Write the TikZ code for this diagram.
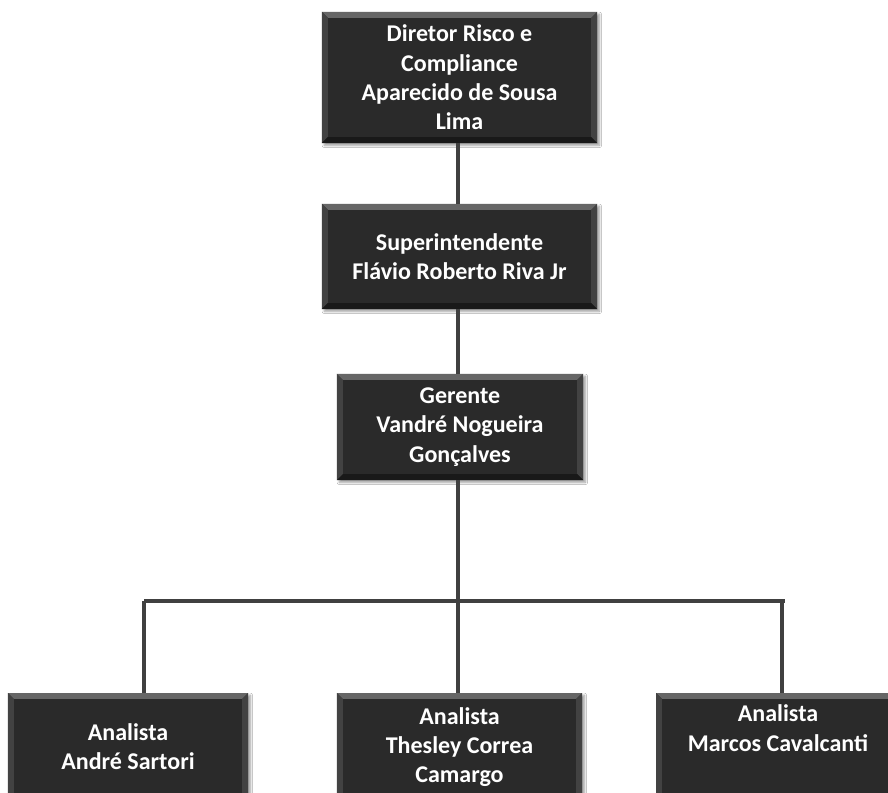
\documentclass[tikz,border=0pt]{standalone}
\usepackage{fontspec}
\setmainfont{Carlito}
\usetikzlibrary{shadows.blur}
\definecolor{boxfill}{HTML}{2A2A2A}
\definecolor{bevel}{HTML}{666666}
\definecolor{bevelside}{HTML}{424242}
\definecolor{linkgray}{HTML}{404040}
\begin{document}
\begin{tikzpicture}[x=0.03cm,y=-0.03cm,
  cargo/.style={fill=boxfill, text=white, align=center, inner sep=0pt,
    font=\fontsize{20.5}{25}\selectfont\bfseries,
    blur shadow={shadow xshift=2pt, shadow yshift=-2pt, shadow blur steps=6},
    path picture={
      \fill[bevel] (path picture bounding box.north west) -- (path picture bounding box.north east)
        -- ([xshift=-5pt,yshift=-5pt]path picture bounding box.north east)
        -- ([xshift=5pt,yshift=-5pt]path picture bounding box.north west) -- cycle;
      \fill[bevelside] (path picture bounding box.north west) -- ([xshift=5pt,yshift=-5pt]path picture bounding box.north west)
        -- ([xshift=5pt,yshift=5pt]path picture bounding box.south west) -- (path picture bounding box.south west) -- cycle;
      \fill[bevelside] (path picture bounding box.north east) -- ([xshift=-5pt,yshift=-5pt]path picture bounding box.north east)
        -- ([xshift=-5pt,yshift=5pt]path picture bounding box.south east) -- (path picture bounding box.south east) -- cycle;
      \fill[black!90] (path picture bounding box.south west) -- ([xshift=5pt,yshift=5pt]path picture bounding box.south west)
        -- ([xshift=-5pt,yshift=5pt]path picture bounding box.south east) -- (path picture bounding box.south east) -- cycle;
    }},
  link/.style={draw=linkgray, line width=3pt}]
\clip (0,0) rectangle (888,793);
\fill[white] (0,0) rectangle (888,793);

\node[cargo, minimum width=8.25cm, minimum height=3.93cm] (dir) at (459.5,77.5) {Diretor Risco e\\Compliance\\Aparecido de Sousa\\Lima};
\node[cargo, minimum width=8.25cm, minimum height=3.15cm] (sup) at (459.5,256.5) {Superintendente\\Flávio Roberto Riva Jr};
\node[cargo, minimum width=7.38cm, minimum height=3.18cm] (ger) at (460,427) {Gerente\\Vandré Nogueira\\Gonçalves};
\node[cargo, minimum width=7.2cm, minimum height=3.24cm] (anaL) at (128,747) {Analista\\André Sartori};
\node[cargo, minimum width=7.35cm, minimum height=3.24cm] (anaM) at (459.5,747) {Analista\\Thesley Correa\\Camargo};
\node[cargo, minimum width=7.32cm, minimum height=3.24cm] (anaR) at (778,747) {Analista\\Marcos Cavalcanti\\\strut};

\coordinate (busL) at (144,601);
\coordinate (busM) at (458,601);
\coordinate (busR) at (782,601);
\coordinate (busE) at (785,601);

\path[link] (dir.south -| busM) -- (sup.north -| busM);
\path[link] (sup.south -| busM) -- (ger.north -| busM);
\path[link] (ger.south -| busM) -- (busM);
\path[link] (busL) -- (busE);
\path[link] (busL) -- (busL |- anaL.north);
\path[link] (busM) -- (busM |- anaM.north);
\path[link] (busR) -- (busR |- anaR.north);
\end{tikzpicture}
\end{document}
